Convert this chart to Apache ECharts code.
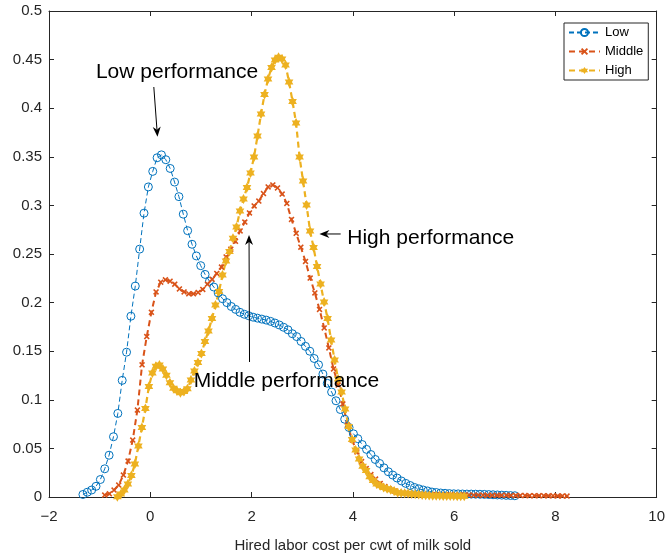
<!DOCTYPE html>
<html><head><meta charset="utf-8">
<script src="https://cdn.jsdelivr.net/npm/echarts@6/dist/echarts.min.js"></script>
<style>html,body{margin:0;padding:0;background:#fff}#c{width:668px;height:558px}</style>
</head><body><div id="c"></div>
<script>
// ---- data ----
const seriesNames = ['Low', 'Middle', 'High'];
const seriesColors = ['#0072BD', '#D95319', '#EDB120'];
const lowRange = [-1.33, 7.2];
const lowY = [0.0026,0.0049,0.0072,0.011,0.018,0.029,0.043,0.062,0.086,0.120,
0.149,0.186,0.217,0.255,0.292,0.319,0.335,0.349,0.352,0.347,
0.338,0.324,0.309,0.291,0.274,0.260,0.248,0.238,0.229,0.222,
0.216,0.210,0.204,0.200,0.196,0.193,0.190,0.188,0.1865,0.185,
0.184,0.183,0.182,0.1807,0.179,0.177,0.1746,0.172,0.168,0.165,
0.160,0.155,0.150,0.1425,0.136,0.1265,0.117,0.108,0.099,0.090,
0.080,0.0715,0.065,0.060,0.054,0.049,0.0437,0.0386,0.0345,0.030,
0.026,0.0226,0.0195,0.0165,0.014,0.0118,0.0098,0.0084,0.0072,0.0062,
0.0051,0.0046,0.0041,0.0038,0.0035,0.0033,0.0032,0.0031,0.003,0.003,
0.0029,0.0028,0.0027,0.0025,0.0023,0.0021,0.0019,0.0017,0.0015,0.0013];
const midRange = [-0.9, 8.23];
const midY = [0.002,0.0033,0.0072,0.0123,0.0226,0.037,0.0586,0.0895,0.136,0.165,
0.19,0.211,0.221,0.2235,0.222,0.219,0.214,0.211,0.209,0.209,
0.2104,0.2135,0.219,0.224,0.230,0.2366,0.247,0.255,0.263,0.2737,
0.2829,0.2922,0.2994,0.3045,0.3122,0.319,0.321,0.318,0.3117,0.302,
0.2855,0.2713,0.257,0.2423,0.2253,0.2099,0.193,0.1739,0.1533,0.1317,
0.1152,0.0957,0.074,0.0586,0.0463,0.0365,0.0293,0.0231,0.0185,0.0139,
0.0108,0.0082,0.0062,0.0048,0.0041,0.0036,0.0031,0.0029,0.0027,0.0025,
0.0024,0.0023,0.0022,0.0022,0.0021,0.0021,0.002,0.002,0.002,0.0019,
0.0019,0.0019,0.0018,0.0018,0.0018,0.0017,0.0017,0.0016,0.0016,0.0015,
0.0015,0.0014,0.0014,0.0013,0.0013,0.0012,0.0012,0.0011,0.0011,0.001];
const highRange = [-0.65, 6.2];
const highY = [0.0003,0.0031,0.0072,0.0134,0.0221,0.034,0.0525,0.0715,0.091,0.1137,
0.1276,0.1345,0.1358,0.1318,0.1252,0.1175,0.1119,0.1094,0.1072,0.1085,
0.1113,0.1204,0.1296,0.1384,0.1476,0.16,0.1708,0.1836,0.1975,0.2114,
0.2284,0.2428,0.2526,0.2662,0.2778,0.2942,0.3066,0.3184,0.3333,0.3498,
0.3714,0.394,0.4141,0.43,0.4419,0.4496,0.4525,0.4506,0.4444,0.427,
0.4069,0.3848,0.3498,0.3251,0.3004,0.2737,0.2567,0.2371,0.2191,0.2006,
0.1836,0.1615,0.141,0.1214,0.108,0.0905,0.0725,0.0592,0.0484,0.0391,
0.0316,0.0273,0.0208,0.017,0.0134,0.0115,0.0098,0.0084,0.0074,0.0062,
0.0043,0.0041,0.0038,0.0035,0.0032,0.0029,0.0025,0.0021,0.0019,0.0016,
0.0014,0.0013,0.0012,0.0011,0.0011,0.001,0.001,0.0009,0.0008,0.0007];
const xTicks = [-2, 0, 2, 4, 6, 8, 10];
const yTicks = [0, 0.05, 0.1, 0.15, 0.2, 0.25, 0.3, 0.35, 0.4, 0.45, 0.5];
const xTitle = 'Hired labor cost per cwt of milk sold';
const noteTexts = ['Low performance', 'High performance', 'Middle performance'];
const noteTextAt = [[-1.073, 0.4372], [3.89, 0.2665], [0.857, 0.1193]];
const noteArrowFrom = [[0.07, 0.4218], [3.76, 0.2706], [1.96, 0.1389]];
const noteArrowTo = [[0.142, 0.3707], [3.34, 0.2706], [1.95, 0.2695]];

// ---- build ----
function pairs(range, ys) {
  const n = ys.length, step = (range[1] - range[0]) / (n - 1);
  return ys.map((y, i) => [range[0] + i * step, y]);
}
const FONT = '"Liberation Sans", Arial, Helvetica, sans-serif';
const AX = '#262626';
const xSym = 'path://M-1,-1.6L0,-0.6L1,-1.6L1.6,-1L0.6,0L1.6,1L1,1.6L0,0.6L-1,1.6L-1.6,1L-0.6,0L-1.6,-1Z';
const hexSym = 'path://M0,-1L0.2887,-0.5L0.866,-0.5L0.5774,0L0.866,0.5L0.2887,0.5L0,1L-0.2887,0.5L-0.866,0.5L-0.5774,0L-0.866,-0.5L-0.2887,-0.5Z';

const chart = echarts.init(document.getElementById('c'), null, {renderer: 'canvas'});
const axisCommon = {
  type: 'value', splitLine: {show: false},
  axisLine: {show: true, onZero: false, lineStyle: {color: AX, width: 1}},
  axisTick: {show: true, inside: true, length: 5, lineStyle: {color: AX}},
};
const option = {
  animation: false,
  backgroundColor: '#fff',
  grid: {left: 49, right: 10, top: 11, bottom: 61, containLabel: false},
  xAxis: [
    Object.assign({}, axisCommon, {min: xTicks[0], max: xTicks[xTicks.length-1], interval: xTicks[1]-xTicks[0],
      position: 'bottom',
      name: xTitle, nameLocation: 'middle', nameGap: 41,
      nameTextStyle: {color: AX, fontSize: 15, fontFamily: FONT},
      axisLabel: {color: AX, fontSize: 15, fontFamily: FONT, margin: 12,
        formatter: v => String(v).replace('-', '\u2212')}}),
    Object.assign({}, axisCommon, {min: xTicks[0], max: xTicks[xTicks.length-1], interval: xTicks[1]-xTicks[0],
      position: 'top', axisLabel: {show: false}})
  ],
  yAxis: [
    Object.assign({}, axisCommon, {min: yTicks[0], max: yTicks[yTicks.length-1], interval: yTicks[1]-yTicks[0],
      position: 'left',
      axisLabel: {color: AX, fontSize: 15, fontFamily: FONT, margin: 7,
        formatter: v => String(+v.toFixed(2))}}),
    Object.assign({}, axisCommon, {min: yTicks[0], max: yTicks[yTicks.length-1], interval: yTicks[1]-yTicks[0],
      position: 'right', axisLabel: {show: false}})
  ],
  legend: {
    left: 564, top: 23, orient: 'vertical',
    data: seriesNames,
    backgroundColor: '#fff', borderColor: AX, borderWidth: 1, borderRadius: 0,
    padding: [3, 5, 3, 4], itemGap: 6, itemWidth: 31, itemHeight: 9,
    textStyle: {color: '#000', fontSize: 13, fontFamily: FONT}
  },
  series: [
    {name: seriesNames[0], type: 'line', data: pairs(lowRange, lowY), clip: false,
      symbol: 'circle', symbolSize: 8,
      lineStyle: {color: seriesColors[0], width: 1, type: [5, 3]},
      itemStyle: {color: 'rgba(255,255,255,0)', borderColor: seriesColors[0], borderWidth: 1}},
    {name: seriesNames[1], type: 'line', data: pairs(midRange, midY), clip: false,
      symbol: xSym, symbolSize: 6, symbolKeepAspect: true,
      lineStyle: {color: seriesColors[1], width: 2, type: [6, 4]},
      itemStyle: {color: seriesColors[1], borderWidth: 0}},
    {name: seriesNames[2], type: 'line', data: pairs(highRange, highY), clip: false,
      symbol: hexSym, symbolSize: 10, symbolKeepAspect: true,
      lineStyle: {color: seriesColors[2], width: 2.2, type: [6, 4]},
      itemStyle: {color: seriesColors[2], borderWidth: 0}}
  ]
};
chart.setOption(option);

// annotations anchored in data coordinates
const gfx = [];
for (let k = 0; k < noteTexts.length; k++) {
  const t = chart.convertToPixel({gridIndex: 0}, noteTextAt[k]);
  gfx.push({type: 'text', x: t[0], y: t[1], z: 100,
    style: {text: noteTexts[k], fill: '#000', font: '21px ' + FONT,
      align: 'left', verticalAlign: 'middle', textAlign: 'left', textVerticalAlign: 'middle'}});
  const a = chart.convertToPixel({gridIndex: 0}, noteArrowFrom[k]);
  const b = chart.convertToPixel({gridIndex: 0}, noteArrowTo[k]);
  const dx = b[0] - a[0], dy = b[1] - a[1], L = Math.hypot(dx, dy);
  const ux = dx / L, uy = dy / L, px = -uy, py = ux;
  const hl = 10, hw = 4;
  const back = [b[0] - ux * hl, b[1] - uy * hl];
  const notch = [b[0] - ux * hl * 0.7, b[1] - uy * hl * 0.7];
  gfx.push({type: 'line', z: 100, shape: {x1: a[0], y1: a[1], x2: notch[0], y2: notch[1]},
    style: {stroke: '#000', lineWidth: 1}});
  gfx.push({type: 'polygon', z: 100, shape: {points: [
    b, [back[0] + px * hw, back[1] + py * hw], notch, [back[0] - px * hw, back[1] - py * hw]]},
    style: {fill: '#000'}});
}
chart.setOption({graphic: gfx});
</script></body></html>
